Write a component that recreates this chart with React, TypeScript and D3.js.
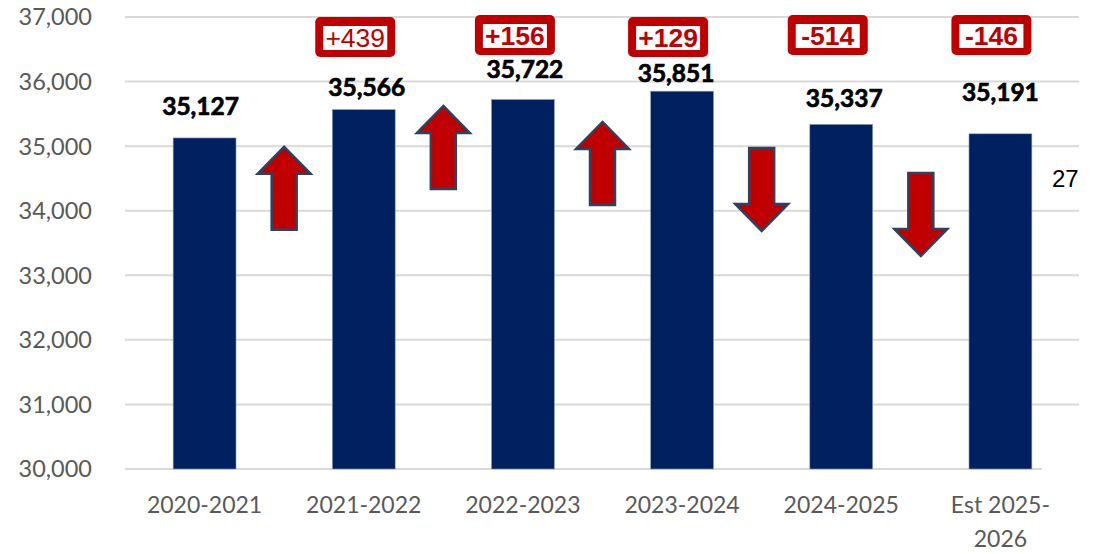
import React from "react";
import * as d3 from "d3";

const categories = ["2020-2021", "2021-2022", "2022-2023", "2023-2024", "2024-2025", "Est 2025-2026"];
const xLabelLines = [["2020-2021"], ["2021-2022"], ["2022-2023"], ["2023-2024"], ["2024-2025"], ["Est 2025-", "2026"]];
const values = [35127, 35566, 35722, 35851, 35337, 35191];
const changes = ["+439", "+156", "+129", "-514", "-146"];
const changeBold = [false, true, true, true, true];
const yTicks = [30000, 31000, 32000, 33000, 34000, 35000, 36000, 37000];
// arrow tip/top anchor values (data units), one per gap between bars
const arrowTopValues = [34990, 35622, 35374, 34971, 34584];
const arrowDirections = ["up", "up", "up", "down", "down"];
const sideNote = "27";

// styling offsets
const labelGaps = [23, 14, 22, 9, 17, 33];
const labelDx = [-4, 3, 2, -6, 3, 0];
const boxDx = [-8.5, -8, -14, -13.5, -9];
const boxTop = [17, 15, 17, 15, 15];

const W = 1094;
const H = 554;
const RED = "#C00000";
const NAVY = "#00205F";

export default function App() {
  const x = d3.scaleBand<string>().domain(categories).range([125, 1080]).paddingInner(0.605).paddingOuter(0.3025);
  const y = d3.scaleLinear().domain([30000, 37000]).range([469, 17]);
  const fmt = d3.format(",");
  const bw = x.bandwidth();
  const center = (i: number) => (x(categories[i]) as number) + bw / 2;

  const arrowPath = (cx: number, top: number, dir: string) => {
    const L = 83, hh = 27, hw = 26.5, sw = 12.5;
    if (dir === "up") {
      const b = top + L, hb = top + hh;
      return `M${cx},${top} L${cx + hw},${hb} L${cx + sw},${hb} L${cx + sw},${b} L${cx - sw},${b} L${cx - sw},${hb} L${cx - hw},${hb} Z`;
    } else {
      const tip = top + L, hb = tip - hh;
      return `M${cx - sw},${top} L${cx + sw},${top} L${cx + sw},${hb} L${cx + hw},${hb} L${cx},${tip} L${cx - hw},${hb} L${cx - sw},${hb} Z`;
    }
  };

  return (
    <svg width={W} height={H} style={{ position: "absolute", left: 0, top: 0, background: "#fff" }}>
      {yTicks.map((t) => (
        <g key={t}>
          <line x1={125} x2={t === 30000 ? 1042 : 1079} y1={y(t)} y2={y(t)} stroke="#D9D9D9" strokeWidth={2} />
          <text x={92} y={y(t)} dy="0.36em" textAnchor="end" fontFamily="Lato, 'Open Sans', sans-serif" fontSize={23.5} fill="#595959">
            {fmt(t)}
          </text>
        </g>
      ))}
      {values.map((v, i) => (
        <rect key={i} x={x(categories[i])} y={y(v)} width={bw} height={y(30000) - y(v)} fill={NAVY} stroke="#8EA0C0" strokeWidth={0.6} />
      ))}
      {values.map((v, i) => (
        <text key={"l" + i} x={center(i) + labelDx[i]} y={y(v) - labelGaps[i]} textAnchor="middle" fontFamily="Lato, sans-serif" fontWeight={700} fontSize={24.5} fill="#000" stroke="#000" strokeWidth={0.7}>
          {fmt(v)}
        </text>
      ))}
      {xLabelLines.map((lines, i) => (
        <text key={"x" + i} x={center(i)} y={513} textAnchor="middle" fontFamily="Lato, 'Open Sans', sans-serif" fontSize={23} fill="#595959">
          {lines.map((ln, j) => (
            <tspan key={j} x={center(i)} dy={j === 0 ? 0 : 34}>{ln}</tspan>
          ))}
        </text>
      ))}
      {arrowTopValues.map((v, i) => {
        const cx = (center(i) + center(i + 1)) / 2;
        return <path key={"a" + i} d={arrowPath(cx, y(v), arrowDirections[i])} fill={RED} stroke="#2B4462" strokeWidth={2.5} strokeLinejoin="miter" />;
      })}
      {changes.map((c, i) => {
        const cx = center(i + 1) + boxDx[i];
        const top = boxTop[i];
        return (
          <g key={"b" + i}>
            <rect x={cx - 40} y={top} width={80} height={40} rx={5} fill={RED} />
            <rect x={cx - 32} y={top + 9} width={64} height={24} fill="#fff" />
            <text x={cx} y={top + 20} dy="0.36em" textAnchor="middle" fontFamily="'Liberation Sans', Arial, sans-serif" fontWeight={changeBold[i] ? 700 : 400} fontSize={26.5} fill={RED}>
              {c}
            </text>
          </g>
        );
      })}
      <text x={1052} y={187} fontFamily="'Liberation Sans', Arial, sans-serif" fontSize={24} fill="#000">{sideNote}</text>
    </svg>
  );
}
